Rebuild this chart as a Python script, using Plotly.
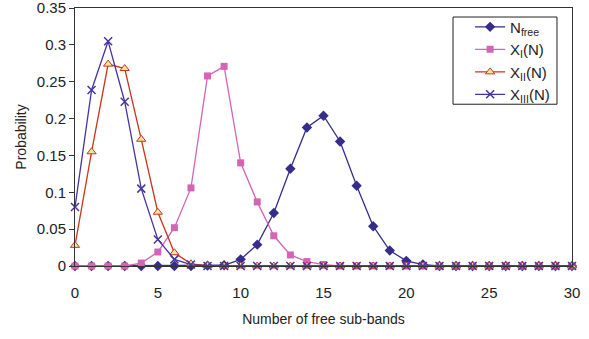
import plotly.graph_objects as go

x = list(range(0, 31))

n_free = [0, 0, 0, 0, 0, 0, 0, 0, 0.0005, 0.001, 0.009, 0.029, 0.072, 0.132, 0.188, 0.204,
          0.169, 0.109, 0.054, 0.021, 0.007, 0.002, 0, 0, 0, 0, 0, 0, 0, 0, 0]
x_i = [0, 0, 0, 0, 0.004, 0.019, 0.052, 0.106, 0.258, 0.271, 0.14, 0.087, 0.041, 0.015, 0.006, 0.002,
       0, 0, 0, 0, 0, 0, 0, 0, 0, 0, 0, 0, 0, 0, 0]
x_ii = [0.028, 0.155, 0.274, 0.268, 0.172, 0.073, 0.018, 0.003, 0.0005, 0, 0, 0, 0, 0, 0, 0,
        0, 0, 0, 0, 0, 0, 0, 0, 0, 0, 0, 0, 0, 0, 0]
x_iii = [0.08, 0.239, 0.305, 0.223, 0.105, 0.036, 0.009, 0.002, 0, 0, 0, 0, 0, 0, 0, 0,
         0, 0, 0, 0, 0, 0, 0, 0, 0, 0, 0, 0, 0, 0, 0]

y_ticks = [0, 0.05, 0.1, 0.15, 0.2, 0.25, 0.3, 0.35]
y_tick_labels = ["0", "0.05", "0.1", "0.15", "0.2", "0.25", "0.3", "0.35"]

names = ["N<sub>free</sub>", "X<sub>I</sub>(N)", "X<sub>II</sub>(N)", "X<sub>III</sub>(N)"]

fig = go.Figure()
fig.add_trace(go.Scatter(x=x, y=n_free, name=names[0], mode="lines+markers",
                         line=dict(color="#352c8c", width=1.3),
                         marker=dict(symbol="diamond", size=8, color="#352c8c"),
                         cliponaxis=False))
fig.add_trace(go.Scatter(x=x, y=x_i, name=names[1], mode="lines+markers",
                         line=dict(color="#d464b4", width=1.3),
                         marker=dict(symbol="square", size=7, color="#d464b4"),
                         cliponaxis=False))
fig.add_trace(go.Scatter(x=x, y=x_ii, name=names[2], mode="lines+markers",
                         line=dict(color="#cc3318", width=1.3),
                         marker=dict(symbol="triangle-up", size=8, color="#ece6a0",
                                     line=dict(color="#cc3318", width=1)),
                         cliponaxis=False))
fig.add_trace(go.Scatter(x=x, y=x_iii, name=names[3], mode="lines+markers",
                         line=dict(color="#4434a0", width=1.3),
                         marker=dict(symbol="x-thin", size=8,
                                     line=dict(color="#4434a0", width=1.5)),
                         cliponaxis=False))

fig.add_shape(type="rect", xref="paper", yref="paper",
              x0=0.7606, x1=0.9698, y0=0.627, y1=0.965,
              line=dict(color="#222222", width=1), fillcolor="rgba(0,0,0,0)", layer="above")

fig.update_layout(
    width=589, height=339,
    margin=dict(l=75, r=17, t=8, b=73),
    paper_bgcolor="white", plot_bgcolor="white",
    font=dict(family="Liberation Sans, Arial, sans-serif", size=15, color="#222222"),
    showlegend=True,
    legend=dict(x=0.966, y=0.99, xanchor="right", yanchor="top",
                borderwidth=0, bgcolor="rgba(0,0,0,0)",
                font=dict(size=15), tracegroupgap=0, itemwidth=30),
    xaxis=dict(range=[0, 30], dtick=5, showgrid=False, zeroline=False, automargin=False,
               showline=True, linecolor="#333333", linewidth=1, mirror=True,
               ticks="", ticklabelstandoff=13, tickfont=dict(size=15),
               title=dict(text="Number of free sub-bands", font=dict(size=14), standoff=14)),
    yaxis=dict(range=[0, 0.3502], tickvals=y_ticks, ticktext=y_tick_labels, automargin=False,
               showgrid=False, zeroline=False, ticklabeloverflow="allow",
               showline=True, linecolor="#333333", linewidth=1, mirror=True,
               ticks="outside", ticklen=5, tickcolor="#333333", tickfont=dict(size=15),
               title=dict(text="Probability", font=dict(size=14), standoff=6)),
)

fig.write_html("out.html")
